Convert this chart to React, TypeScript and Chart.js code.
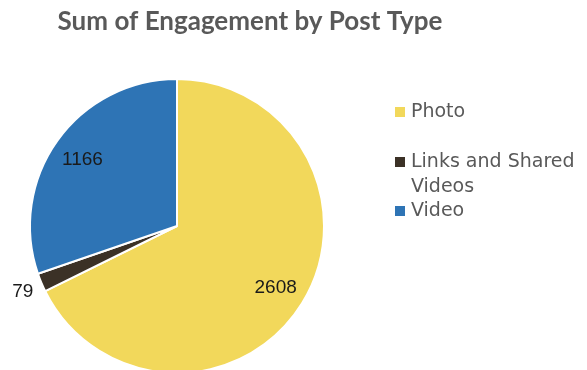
import React, { useEffect, useRef } from "react";
import { Chart, registerables } from "chart.js";

Chart.register(...registerables);

const TITLE = "Sum of Engagement by Post Type";
const categories = ["Photo", "Links and Shared Videos", "Video"];
const legendLines = [["Photo"], ["Links and Shared", "Videos"], ["Video"]];
const values = [2608, 79, 1166];
const colors = ["#F2D85B", "#3B3126", "#2E74B5"];

const overlayPlugin = {
  id: "overlay",
  afterDraw(chart: any) {
    const ctx = chart.ctx as CanvasRenderingContext2D;
    ctx.save();
    // title
    ctx.font = "bold 26px Lato";
    ctx.fillStyle = "#595959";
    ctx.textAlign = "center";
    ctx.textBaseline = "alphabetic";
    ctx.fillText(TITLE, 250, 30);

    // legend
    ctx.font = "19px 'DejaVu Sans'";
    ctx.textAlign = "left";
    ctx.textBaseline = "middle";
    const rowsY = [112, 162, 211];
    legendLines.forEach((lines, i) => {
      const y = rowsY[i];
      ctx.fillStyle = colors[i];
      ctx.fillRect(395, y - 5, 10, 10);
      ctx.fillStyle = "#595959";
      lines.forEach((ln, j) => ctx.fillText(ln, 411, y + j * 25));
    });

    // data labels
    const meta = chart.getDatasetMeta(0);
    ctx.font = "19px 'Liberation Sans'";
    ctx.fillStyle = "#1a1a1a";
    ctx.textAlign = "center";
    meta.data.forEach((arc: any, i: number) => {
      const { x, y, startAngle, endAngle, outerRadius } = arc.getProps(
        ["x", "y", "startAngle", "endAngle", "outerRadius"],
        true
      );
      const mid = (startAngle + endAngle) / 2;
      const frac = (endAngle - startAngle) / (2 * Math.PI);
      const r = frac < 0.05 ? outerRadius + 20 : outerRadius * 0.79;
      ctx.fillText(String(values[i]), x + Math.cos(mid) * r, y + Math.sin(mid) * r + 1);
    });
    ctx.restore();
  },
};

export default function App() {
  const ref = useRef<HTMLCanvasElement>(null);
  useEffect(() => {
    const chart = new Chart(ref.current!, {
      type: "pie",
      data: {
        labels: categories,
        datasets: [
          {
            data: values,
            backgroundColor: colors,
            borderColor: "#ffffff",
            borderWidth: 2,
          },
        ],
      },
      options: {
        responsive: false,
        animation: false,
        layout: { padding: { left: 29, top: 78, right: 262, bottom: 26 } },
        plugins: {
          legend: { display: false },
          title: { display: false },
          tooltip: { enabled: false },
        },
      },
      plugins: [overlayPlugin],
    });
    return () => chart.destroy();
  }, []);
  return (
    <div
      style={{
        position: "fixed",
        left: 0,
        top: 0,
        width: 587,
        height: 370,
        overflow: "hidden",
        background: "#fff",
      }}
    >
      <canvas ref={ref} width={587} height={400} style={{ display: "block" }} />
    </div>
  );
}
